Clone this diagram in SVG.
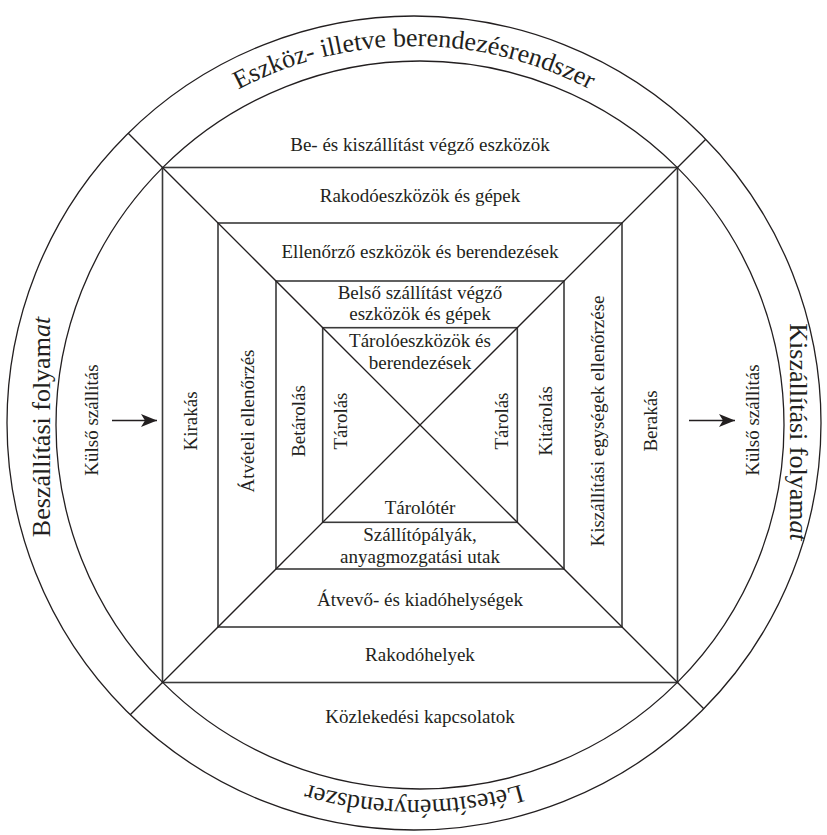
<svg xmlns="http://www.w3.org/2000/svg" width="827" height="835" viewBox="0 0 827 835">
  <defs>
    <style>
      .ln{fill:none;stroke:#231f20;stroke-width:1.3}
      .bx{fill:none;stroke:#3a3a3a;stroke-width:1.6}
      text{font-family:"Liberation Serif","Times New Roman",serif;fill:#231f20}
      .t{font-size:19px;text-anchor:middle}
      .ring{font-size:26px}
      .arrow{stroke:#231f20;stroke-width:1.6;fill:none}
    </style>
    <marker id="head" viewBox="0 0 16 13" refX="16" refY="6.5" markerWidth="16" markerHeight="13" markerUnits="userSpaceOnUse" orient="auto">
      <path d="M0,0 L16,6.5 L0,13 L4,6.5 Z" fill="#231f20"/>
    </marker>
    <!-- baselines for the curved ring labels -->
    <path id="arcTop" d="M 37 423 A 377 377 0 0 1 791 423"/>
    <path id="arcBot" d="M 791 423 A 377 377 0 0 1 37 423"/>
  </defs>

  <rect width="827" height="835" fill="#ffffff"/>

  <!-- outer ring -->
  <g id="ring">
    <circle class="ln" cx="414" cy="423" r="407"/>
    <circle class="ln" cx="420" cy="425" r="364"/>
  </g>

  <!-- nested squares -->
  <g id="squares">
    <rect class="bx" x="162.5" y="167.5" width="515" height="515"/>
    <rect class="bx" x="218" y="223" width="404" height="404"/>
    <rect class="bx" x="276" y="281" width="288" height="288"/>
    <rect class="bx" x="322.7" y="327.7" width="194.6" height="194.6"/>
  </g>

  <!-- diagonals from ring edge through the centre, and flow arrows -->
  <g id="connectors">
    <line class="ln" x1="128.2" y1="133.2" x2="703.8" y2="708.8"/>
    <line class="ln" x1="705.8" y1="139.2" x2="130.2" y2="714.8"/>
    <line class="arrow" x1="112" y1="420.5" x2="157" y2="420.5" marker-end="url(#head)"/>
    <line class="arrow" x1="689" y1="420.5" x2="735" y2="420.5" marker-end="url(#head)"/>
  </g>

  <!-- ring labels -->
  <g id="ring-top">
    <text class="ring"><textPath href="#arcTop" startOffset="50%" text-anchor="middle">Eszköz- illetve berendezésrendszer</textPath></text>
  </g>
  <g id="ring-bottom">
    <text class="ring"><textPath href="#arcBot" startOffset="50%" text-anchor="middle">Létesítményrendszer</textPath></text>
  </g>
  <g id="ring-left">
    <text class="ring" text-anchor="middle" transform="translate(50 427) rotate(-90)">Beszállítási folyam<tspan font-style="italic">at</tspan></text>
  </g>
  <g id="ring-right">
    <text class="ring" text-anchor="middle" transform="translate(790 432) rotate(90)">Kiszállítási folyam<tspan font-style="italic">at</tspan></text>
  </g>

  <!-- horizontal bands -->
  <g id="top-bands">
    <text class="t" x="420" y="151">Be- és kiszállítást végző eszközök</text>
    <text class="t" x="420" y="202">Rakodóeszközök és gépek</text>
    <text class="t" x="420" y="258">Ellenőrző eszközök és berendezések</text>
    <text class="t" x="420" y="299">Belső szállítást végző</text>
    <text class="t" x="420" y="320">eszközök és gépek</text>
    <text class="t" x="420" y="347">Tárolóeszközök és</text>
    <text class="t" x="420" y="369">berendezések</text>
  </g>
  <g id="bottom-bands">
    <text class="t" x="420" y="514">Tárolótér</text>
    <text class="t" x="420" y="541">Szállítópályák,</text>
    <text class="t" x="420" y="563">anyagmozgatási utak</text>
    <text class="t" x="420" y="606">Átvevő- és kiadóhelységek</text>
    <text class="t" x="420" y="661">Rakodóhelyek</text>
    <text class="t" x="420" y="723">Közlekedési kapcsolatok</text>
  </g>

  <!-- vertical columns -->
  <g id="left-columns">
    <text class="t" transform="translate(98 420) rotate(-90)">Külső szállítás</text>
    <text class="t" transform="translate(197 421) rotate(-90)">Kirakás</text>
    <text class="t" transform="translate(254 421) rotate(-90)">Átvételi ellenőrzés</text>
    <text class="t" transform="translate(305 421) rotate(-90)">Betárolás</text>
    <text class="t" transform="translate(347 421) rotate(-90)">Tárolás</text>
  </g>
  <g id="right-columns">
    <text class="t" transform="translate(508 421) rotate(-90)">Tárolás</text>
    <text class="t" transform="translate(552 421) rotate(-90)">Kitárolás</text>
    <text class="t" transform="translate(604 421) rotate(-90)">Kiszállítási egységek ellenőrzése</text>
    <text class="t" transform="translate(657 421) rotate(-90)">Berakás</text>
    <text class="t" transform="translate(759 420) rotate(-90)">Külső szállítás</text>
  </g>
</svg>
